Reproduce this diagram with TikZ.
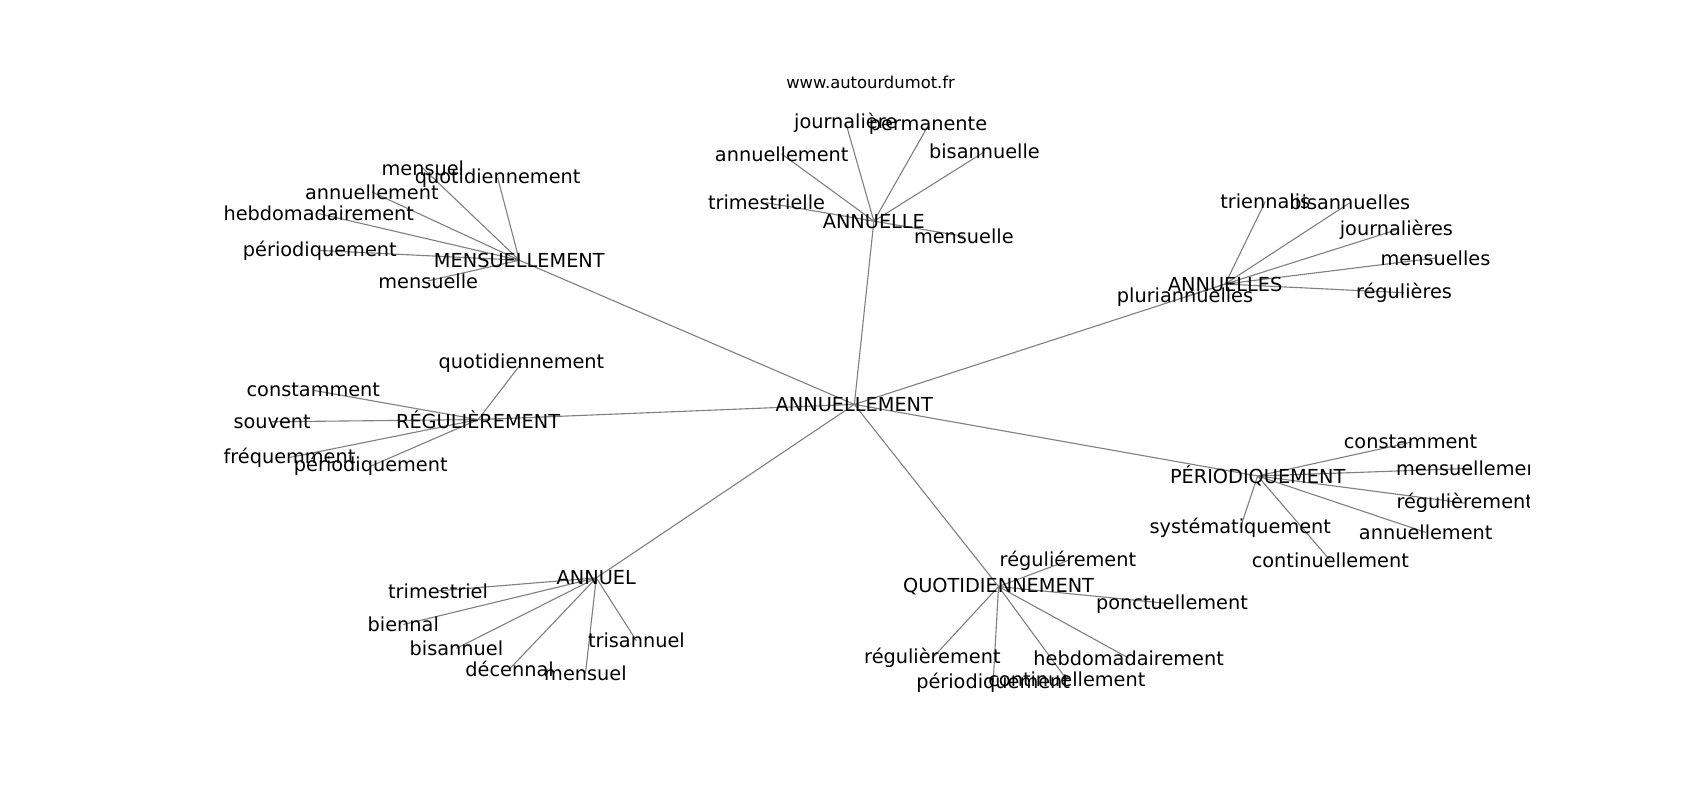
\documentclass[tikz,border=0pt]{standalone}
\usepackage{fontspec}
\setmainfont{DejaVu Sans}
\usetikzlibrary{backgrounds}

\begin{document}
\begin{tikzpicture}[x=0.7806pt,y=-0.7806pt,
  word/.style={inner sep=0pt,font=\fontsize{13.9}{16}\selectfont},
  link/.style={draw=gray,line width=0.8pt}]
  \useasboundingbox (0,0) rectangle (1568,738);
  \node[font=\fontsize{11.8}{14}\selectfont] (site) at (803,76) {www.autourdumot.fr};

  \begin{scope}
  \clip (195,88) rectangle (1411,657);

  % centre
  \node[word] (root) at (788,373) {ANNUELLEMENT};

  % MENSUELLEMENT
  \node[word] (mens) at (479,240) {MENSUELLEMENT};
  \node[word] (mens1) at (390,155) {mensuel};
  \node[word] (mens2) at (459,164) {quotidiennement};
  \node[word] (mens3) at (343,177) {annuellement};
  \node[word] (mens4) at (294,197) {hebdomadairement};
  \node[word] (mens5) at (295,231) {périodiquement};
  \node[word] (mens6) at (395,259) {mensuelle};

  % ANNUELLE
  \node[word] (anle) at (806,204) {ANNUELLE};
  \node[word] (anle1) at (780,113) {journalière};
  \node[word] (anle2) at (856,116) {permanente};
  \node[word] (anle3) at (721,142) {annuellement};
  \node[word] (anle4) at (908,140) {bisannuelle};
  \node[word] (anle5) at (707,187) {trimestrielle};
  \node[word] (anle6) at (889,218) {mensuelle};

  % ANNUELLES
  \node[word] (anls) at (1130,262) {ANNUELLES};
  \node[word] (anls1) at (1167,186) {triennalis};
  \node[word] (anls2) at (1245,187) {bisannuelles};
  \node[word] (anls3) at (1288,212) {journalières};
  \node[word] (anls4) at (1324,238) {mensuelles};
  \node[word] (anls5) at (1295,270) {régulières};
  \node[word] (anls6) at (1093,274) {pluriannuelles};

  % PÉRIODIQUEMENT
  \node[word] (peri) at (1160,439) {PÉRIODIQUEMENT};
  \node[word] (peri1) at (1301,408) {constamment};
  \node[word] (peri2) at (1357,432) {mensuellement};
  \node[word] (peri3) at (1351,464) {régulièrement};
  \node[word] (peri4) at (1315,491) {annuellement};
  \node[word] (peri5) at (1227,517) {continuellement};
  \node[word] (peri6) at (1144,487) {systématiquement};

  % QUOTIDIENNEMENT
  \node[word] (quot) at (921,541) {QUOTIDIENNEMENT};
  \node[word] (quot1) at (985,517) {réguliérement};
  \node[word] (quot2) at (1081,557) {ponctuellement};
  \node[word] (quot3) at (860,607) {régulièrement};
  \node[word] (quot4) at (1041,607) {hebdomadairement};
  \node[word] (quot5) at (916,630) {périodiquement};
  \node[word] (quot6) at (984,627) {continuellement};

  % ANNUEL
  \node[word] (anel) at (550,533) {ANNUEL};
  \node[word] (anel1) at (404,545) {trimestriel};
  \node[word] (anel2) at (372,576) {biennal};
  \node[word] (anel3) at (421,598) {bisannuel};
  \node[word] (anel4) at (470,617) {décennal};
  \node[word] (anel5) at (540,621) {mensuel};
  \node[word] (anel6) at (587,591) {trisannuel};

  % RÉGULIÈREMENT
  \node[word] (regu) at (441,387) {RÉGULIÈREMENT};
  \node[word] (regu1) at (481,335) {quotidiennement};
  \node[word] (regu2) at (289,360) {constamment};
  \node[word] (regu3) at (251,389) {souvent};
  \node[word] (regu4) at (267,422) {fréquemment};
  \node[word] (regu5) at (342,430) {périodiquement};

  \begin{pgfonlayer}{background}
    \draw[link] (root.center) -- (mens.center);
    \draw[link] (root.center) -- (anle.center);
    \draw[link] (root.center) -- (anls.center);
    \draw[link] (root.center) -- (peri.center);
    \draw[link] (root.center) -- (quot.center);
    \draw[link] (root.center) -- (anel.center);
    \draw[link] (root.center) -- (regu.center);

    \draw[link] (mens.center) -- (mens1.center);
    \draw[link] (mens.center) -- (mens2.center);
    \draw[link] (mens.center) -- (mens3.center);
    \draw[link] (mens.center) -- (mens4.center);
    \draw[link] (mens.center) -- (mens5.center);
    \draw[link] (mens.center) -- (mens6.center);

    \draw[link] (anle.center) -- (anle1.center);
    \draw[link] (anle.center) -- (anle2.center);
    \draw[link] (anle.center) -- (anle3.center);
    \draw[link] (anle.center) -- (anle4.center);
    \draw[link] (anle.center) -- (anle5.center);
    \draw[link] (anle.center) -- (anle6.center);

    \draw[link] (anls.center) -- (anls1.center);
    \draw[link] (anls.center) -- (anls2.center);
    \draw[link] (anls.center) -- (anls3.center);
    \draw[link] (anls.center) -- (anls4.center);
    \draw[link] (anls.center) -- (anls5.center);
    \draw[link] (anls.center) -- (anls6.center);

    \draw[link] (peri.center) -- (peri1.center);
    \draw[link] (peri.center) -- (peri2.center);
    \draw[link] (peri.center) -- (peri3.center);
    \draw[link] (peri.center) -- (peri4.center);
    \draw[link] (peri.center) -- (peri5.center);
    \draw[link] (peri.center) -- (peri6.center);

    \draw[link] (quot.center) -- (quot1.center);
    \draw[link] (quot.center) -- (quot2.center);
    \draw[link] (quot.center) -- (quot3.center);
    \draw[link] (quot.center) -- (quot4.center);
    \draw[link] (quot.center) -- (quot5.center);
    \draw[link] (quot.center) -- (quot6.center);

    \draw[link] (anel.center) -- (anel1.center);
    \draw[link] (anel.center) -- (anel2.center);
    \draw[link] (anel.center) -- (anel3.center);
    \draw[link] (anel.center) -- (anel4.center);
    \draw[link] (anel.center) -- (anel5.center);
    \draw[link] (anel.center) -- (anel6.center);

    \draw[link] (regu.center) -- (regu1.center);
    \draw[link] (regu.center) -- (regu2.center);
    \draw[link] (regu.center) -- (regu3.center);
    \draw[link] (regu.center) -- (regu4.center);
    \draw[link] (regu.center) -- (regu5.center);
  \end{pgfonlayer}
  \end{scope}
\end{tikzpicture}
\end{document}
